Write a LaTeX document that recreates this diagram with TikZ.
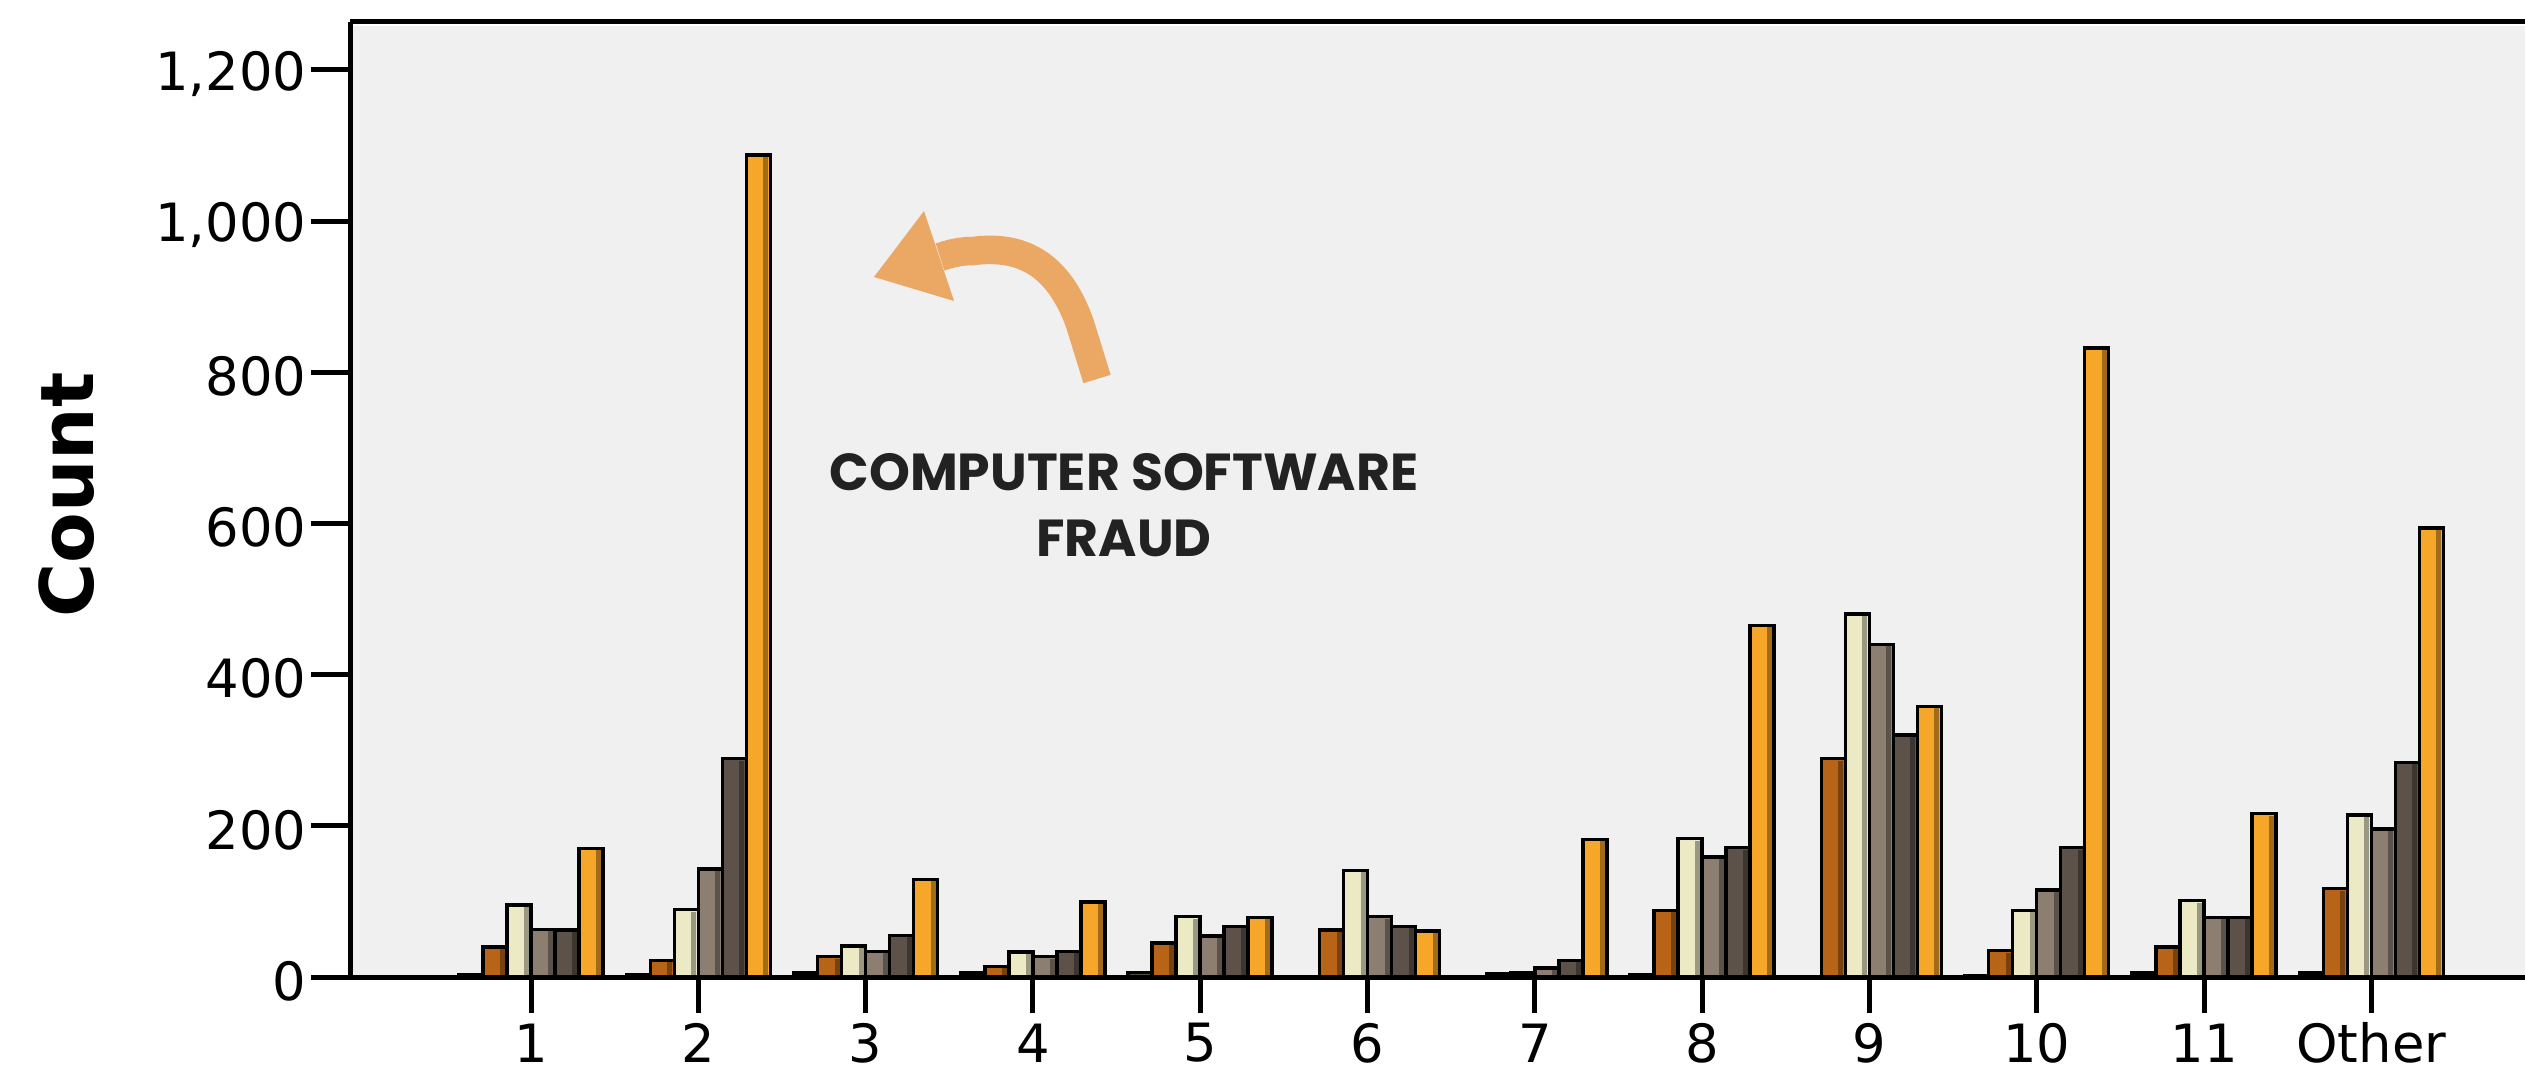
\documentclass[tikz,border=0pt]{standalone}
\usepackage{fontspec}
\setmainfont{DejaVu Sans}
\newfontfamily\annfont{Poppins}
\definecolor{plotbg}{RGB}{240,240,240}
\definecolor{sA}{RGB}{80,76,68}
\definecolor{sB}{RGB}{184,100,24}
\definecolor{sC}{RGB}{236,234,196}
\definecolor{sD}{RGB}{140,126,112}
\definecolor{sE}{RGB}{92,82,74}
\definecolor{sF}{RGB}{246,166,40}
\definecolor{arrowc}{RGB}{235,168,101}
\definecolor{anntext}{RGB}{34,34,34}
\tikzset{
  axisline/.style={line width=0.05cm, black},
  barbox/.style={draw=black, line width=0.035cm},
  ticklab/.style={font=\fontsize{15}{18}\selectfont, inner sep=0pt},
}
\begin{document}
\begin{tikzpicture}[x=0.01cm, y=-0.01cm]
\useasboundingbox (0,0) rectangle (2525,1070);
% plot area
\fill[plotbg] (352,26) rectangle (2525,975);
\draw[axisline] (350,22) -- (2525,22);
\draw[axisline] (350,22) -- (350,977) -- (2525,977);
% y ticks
\foreach \v/\t in {0/0,200/200,400/400,600/600,800/800,1000/{1,000},1200/{1,200}}{
  \pgfmathsetmacro\yy{977-\v*0.756}
  \draw[axisline] (311,\yy) -- (350,\yy);
  \node[ticklab, anchor=east] (yl\v) at (307,\yy+4) {\t};
}
\node[rotate=90, font=\bfseries\fontsize{21}{25}\selectfont] (ylab) at (67,495) {Count};
% bars
\foreach \g/\lab/\a/\b/\c/\d/\e/\f in {
  1/1/3/40/95/63/62/170,
  2/2/3/22/89/143/289/1087,
  3/3/5/27/41/34/55/129,
  4/4/5/14/33/27/34/99,
  5/5/6/45/80/54/67/79,
  6/6/0/62/141/80/67/61,
  7/7/1/4/5/12/22/182,
  8/8/3/88/183/159/171/465,
  9/9/1/289/480/440/320/358,
  10/10/2/35/88/115/171/832,
  11/11/5/40/101/79/79/216,
  12/Other/5/117/214/196/284/594}{
  \pgfmathsetmacro\tx{531+(\g-1)*167.3}
  \foreach \v/\col [count=\k from 0] in {\a/sA,\b/sB,\c/sC,\d/sD,\e/sE,\f/sF}{
    \pgfmathsetmacro\xl{\tx-72+\k*24}
    \pgfmathsetmacro\yt{977-\v*0.756}
    \ifdim\v pt>0pt
      \fill[\col] (\xl,977) rectangle (\xl+24,\yt);
      \ifdim\v pt>10pt
        \fill[\col!65!black] (\xl+17,976) rectangle (\xl+22,\yt+2);
      \fi
      \draw[barbox] (\xl,977) rectangle (\xl+24,\yt);
    \fi
  }
  \draw[axisline] (\tx,977) -- (\tx,1013);
  \node[ticklab] (xl\g) at (\tx,1043) {\lab};
}
\draw[axisline] (350,977) -- (2525,977);
% annotation
\node[align=center, font=\annfont\bfseries\fontsize{14.8}{18.8}\selectfont, text=anntext] (ann) at (1124,505) {COMPUTER SOFTWARE\\FRAUD};
\coordinate (tail) at (1097,379);
\coordinate (bend) at (1080,324);
\coordinate (top) at (973,251);
\coordinate (hb) at (940,257);
\draw[arrowc, line width=0.285cm] (tail) -- (bend) .. controls (1058,262) and (1020,245) .. (top) .. controls (962,251) and (952,253) .. (hb);
\fill[arrowc] (874,277) -- (924,211) -- (954,301) -- cycle;
\end{tikzpicture}
\end{document}
